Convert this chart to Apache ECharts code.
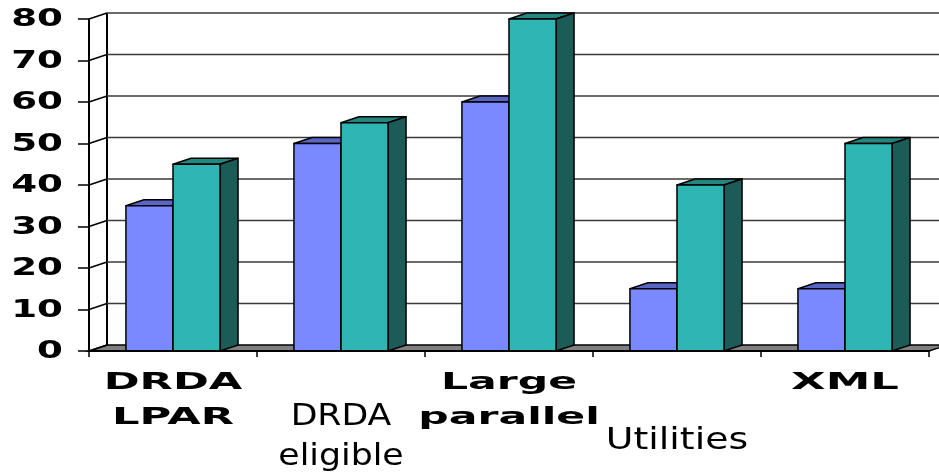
<!DOCTYPE html>
<html>
<head>
<meta charset="utf-8">
<script src="https://cdn.jsdelivr.net/npm/echarts@6/dist/echarts.min.js"></script>
<style>html,body{margin:0;padding:0;background:#fff;}#c{width:939px;height:472px;}</style>
</head>
<body>
<div id="c"></div>
<script>
// ---- data ----
const categories = ['DRDA\nLPAR', 'DRDA\neligible', 'Large\nparallel', 'Utilities', 'XML'];
const seriesBlue = [35, 50, 60, 15, 15];
const seriesTeal = [45, 55, 80, 40, 50];
const yTicks = [0, 10, 20, 30, 40, 50, 60, 70, 80];

// ---- styles ----
const DX = 18, DY = -6;
const BAR_RATIO = 0.28;
const labelStyles = [
  { font: 'bold 23px "DejaVu Sans"', scaleX: 1.88, lineHeight: 35, offset: 15 },
  { font: '31px "DejaVu Sans"', scaleX: 1.12, lineHeight: 40, offset: 46 },
  { font: 'bold 23px "DejaVu Sans"', scaleX: 1.85, lineHeight: 35, offset: 15 },
  { font: '31px "DejaVu Sans"', scaleX: 1.22, lineHeight: 38, offset: 71 },
  { font: 'bold 23px "DejaVu Sans"', scaleX: 1.95, lineHeight: 35, offset: 15 }
];
const colors = {
  blue: { front: '#7a89ff', top: '#5a66c4', side: '#3d4790' },
  teal: { front: '#2fb5b4', top: '#23877f', side: '#1b5c59' }
};

const chart = echarts.init(document.getElementById('c'), null, { renderer: 'canvas' });

function box(x1, x2, yTop, yBase, c) {
  const s = { stroke: '#000', lineWidth: 1.5, lineJoin: 'round' };
  return [
    { type: 'polygon', shape: { points: [[x1, yTop], [x2, yTop], [x2 + DX, yTop + DY], [x1 + DX, yTop + DY]] }, style: Object.assign({ fill: c.top }, s) },
    { type: 'polygon', shape: { points: [[x2, yTop], [x2 + DX, yTop + DY], [x2 + DX, yBase + DY], [x2, yBase]] }, style: Object.assign({ fill: c.side }, s) },
    { type: 'rect', shape: { x: x1, y: yTop, width: x2 - x1, height: yBase - yTop }, style: Object.assign({ fill: c.front }, s) }
  ];
}

const option = {
  animation: false,
  backgroundColor: '#fff',
  grid: { left: 89, right: 10, top: 19, bottom: 121 },
  xAxis: {
    type: 'category', data: categories, z: 3,
    axisLine: { lineStyle: { color: '#000', width: 2 } },
    axisTick: { show: true, length: 6, lineStyle: { color: '#000', width: 1.5 } },
    axisLabel: { show: false },
    splitLine: { show: false }
  },
  yAxis: {
    type: 'value', min: 0, max: 80, interval: 10, z: 3,
    axisLine: { show: true, lineStyle: { color: '#000', width: 2 } },
    axisTick: { show: true, length: 11, lineStyle: { color: '#000', width: 1.5 } },
    axisLabel: { show: false },
    splitLine: { show: false }
  },
  series: [
    {
      type: 'custom', z: 1, silent: true,
      data: yTicks.map(v => [0, v]),
      encode: { x: 0, y: 1 },
      renderItem: function (params, api) {
        const cs = params.coordSys;
        const x0 = cs.x, W = cs.width;
        const v = api.value(1);
        const y = api.coord([0, v])[1];
        const children = [];
        if (v === 0) {
          children.push({ type: 'polygon', shape: { points: [[x0, y], [x0 + W, y], [x0 + W + DX, y + DY], [x0 + DX, y + DY]] },
            style: { fill: '#808080', stroke: '#000', lineWidth: 1.5 } });
          children.push({ type: 'line', shape: { x1: x0 + DX, y1: y + DY, x2: x0 + DX, y2: cs.y + DY },
            style: { stroke: '#000', lineWidth: 2 } });
        } else {
          children.push({ type: 'line', shape: { x1: x0 + DX, y1: y + DY, x2: x0 + W + DX, y2: y + DY },
            style: { stroke: '#3a3a3a', lineWidth: 1.5 } });
        }
        children.push({ type: 'line', shape: { x1: x0, y1: y, x2: x0 + DX, y2: y + DY },
          style: { stroke: '#000', lineWidth: 1.5 } });
        children.push({ type: 'text', x: x0 - 26, y: y + 1, scaleX: 1.55,
          style: { text: String(v), font: 'bold 24px "DejaVu Sans"', fill: '#000', align: 'right', verticalAlign: 'middle' } });
        return { type: 'group', children: children };
      }
    },
    {
      type: 'custom', z: 2, silent: true,
      data: categories.map((c, i) => [i, seriesBlue[i], seriesTeal[i]]),
      encode: { x: 0, y: [1, 2] },
      renderItem: function (params, api) {
        const i = api.value(0);
        const base = api.coord([i, 0]);
        const cx = base[0], yBase = base[1];
        const w = api.size([1, 0])[0] * BAR_RATIO;
        const yA = api.coord([i, api.value(1)])[1];
        const yB = api.coord([i, api.value(2)])[1];
        return { type: 'group', children: box(cx - w, cx, yA, yBase, colors.blue).concat(box(cx, cx + w, yB, yBase, colors.teal)) };
      }
    },
    {
      type: 'custom', z: 4, silent: true,
      data: categories.map((c, i) => [i, 0]),
      encode: { x: 0, y: 1 },
      renderItem: function (params, api) {
        const i = api.value(0);
        const p = api.coord([i, 0]);
        const st = labelStyles[i];
        return { type: 'text', x: p[0], y: p[1] + st.offset, scaleX: st.scaleX,
          style: { text: categories[i], font: st.font, fill: '#000', align: 'center', verticalAlign: 'top', lineHeight: st.lineHeight } };
      }
    }
  ]
};
chart.setOption(option);
</script>
</body>
</html>
